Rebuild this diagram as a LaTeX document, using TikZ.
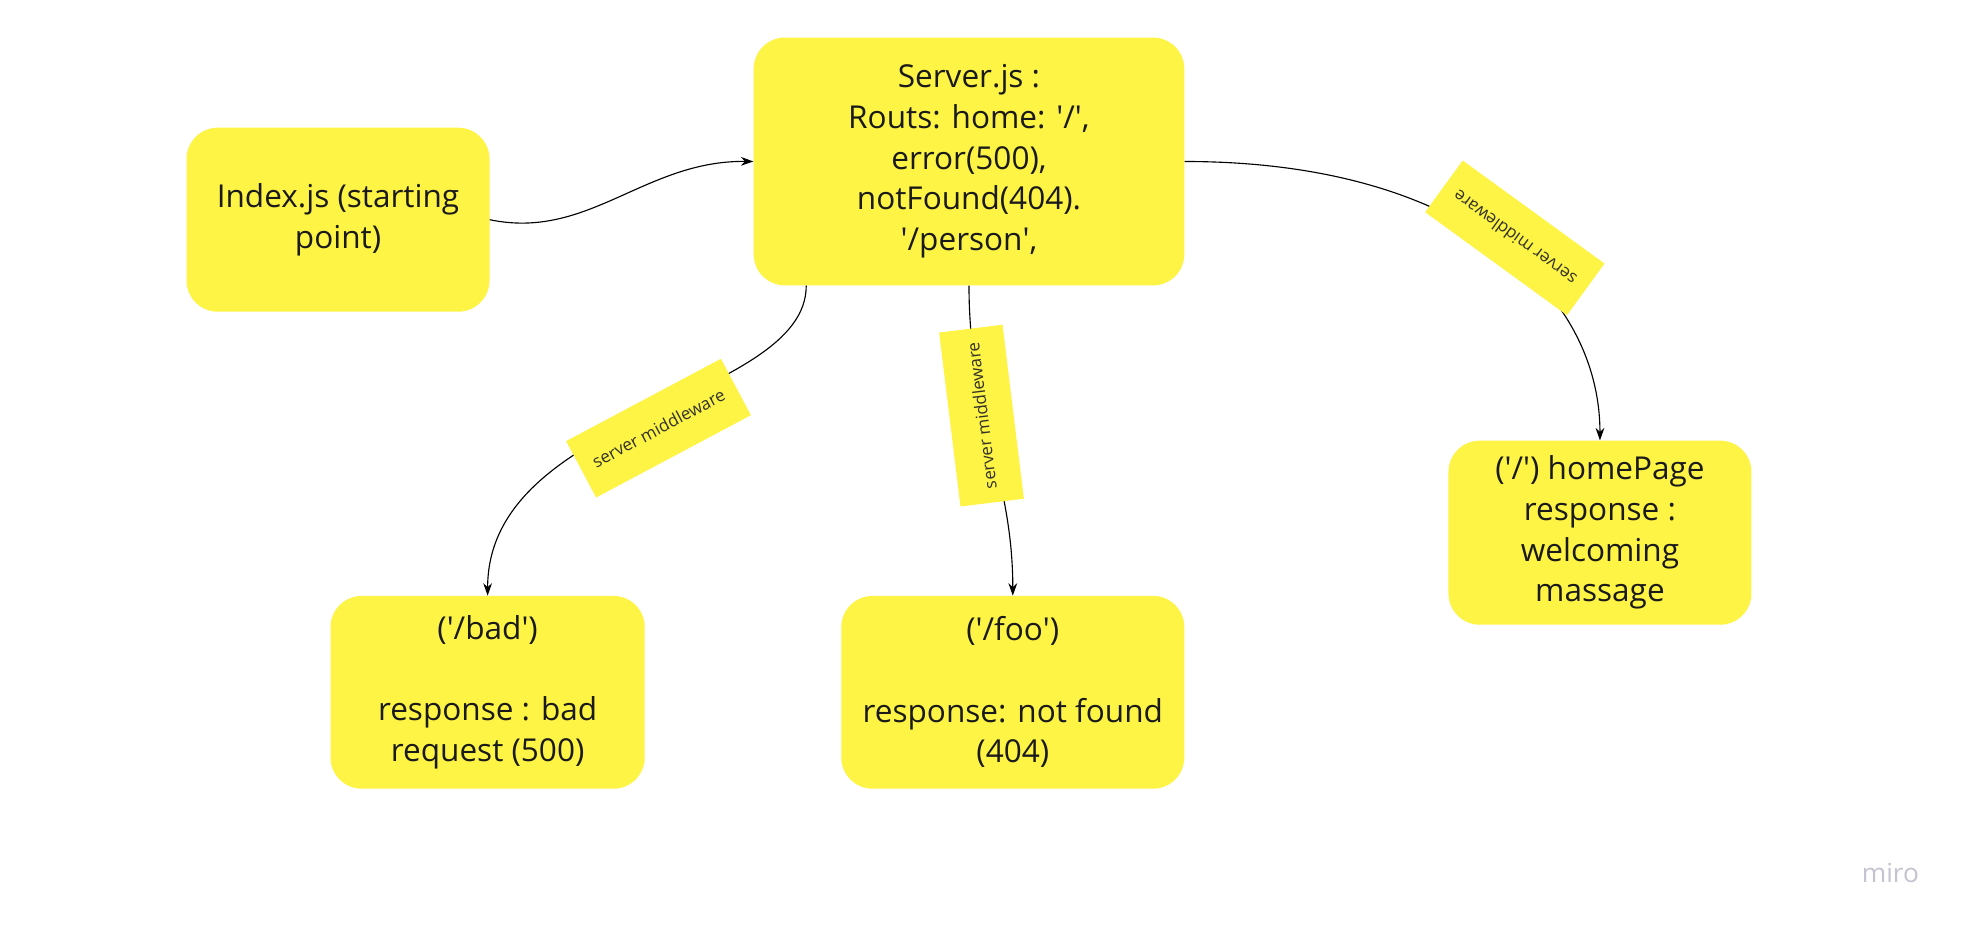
\documentclass[tikz,border=0pt]{standalone}
\usepackage{fontspec}
\setmainfont{Open Sans}
\usetikzlibrary{arrows.meta,calc}
\definecolor{stickyyellow}{RGB}{254,244,69}
\definecolor{inktext}{RGB}{26,26,26}
\definecolor{labeltext}{RGB}{50,50,40}
\definecolor{mirogray}{RGB}{196,196,208}
\newcommand{\qs}{\textquotesingle}
\begin{document}
\begin{tikzpicture}[x=1pt,y=1pt,
  card/.style={rectangle, rounded corners=25pt, fill=stickyyellow, draw=none,
    text=inktext, align=center, inner sep=0pt,
    font=\fontsize{25.2}{32.5}\selectfont},
  tag/.style={rectangle, fill=stickyyellow, draw=none, text=labeltext,
    minimum width=140pt, minimum height=51pt, inner sep=0pt,
    font=\fontsize{13.6}{16}\selectfont},
  link/.style={draw=black, line width=0.9pt, -{Stealth[length=10pt,width=7pt]}}]
\useasboundingbox (0,0) rectangle (1568,-740.5);
\fill[white] (0,0) rectangle (1568,-740.5);

\node[card, minimum width=242pt, minimum height=147pt] (idx) at (270,-175.5)
  {Index.js (starting\\ point)};
\node[card, minimum width=344pt, minimum height=198pt] (srv) at (774,-129)
  {Server.js :\\ Routs: home: \qs/\qs,\\ error(500),\\ notFound(404).\\ \qs/person\qs,};
\node[card, minimum width=251pt, minimum height=154pt] (bad) at (389.5,-553)
  {(\qs/bad\qs)\\ \mbox{}\\ response : bad\\ request (500)};
\node[card, minimum width=274pt, minimum height=154pt] (foo) at (809,-553)
  {(\qs/foo\qs)\\ \mbox{}\\ response: not found\\ (404)};
\node[card, minimum width=242pt, minimum height=147pt] (home) at (1278,-425.5)
  {(\qs/\qs) homePage\\ response :\\ welcoming\\ massage};

\draw[link] (idx.east) .. controls (470,-192) and (515,-128) .. (srv.west);
\draw[link] ([xshift=-130pt]srv.south) .. controls (644,-320) and (389.5,-330) .. (bad.north);
\draw[link] (srv.south) .. controls (774,-330) and (809,-380) .. (foo.north);
\draw[link] (srv.east) .. controls (1170,-129) and (1278,-235) .. (home.north);

\node[tag, rotate=28] (t1) at (526,-342) {server middleware};
\node[tag, rotate=97] (t2) at (784,-332) {server middleware};
\node[tag, rotate=144] (t3) at (1210,-190) {server middleware};

\node[text=mirogray, font=\fontsize{21}{24}\selectfont] (wm) at (1510,-697) {miro};
\end{tikzpicture}
\end{document}
